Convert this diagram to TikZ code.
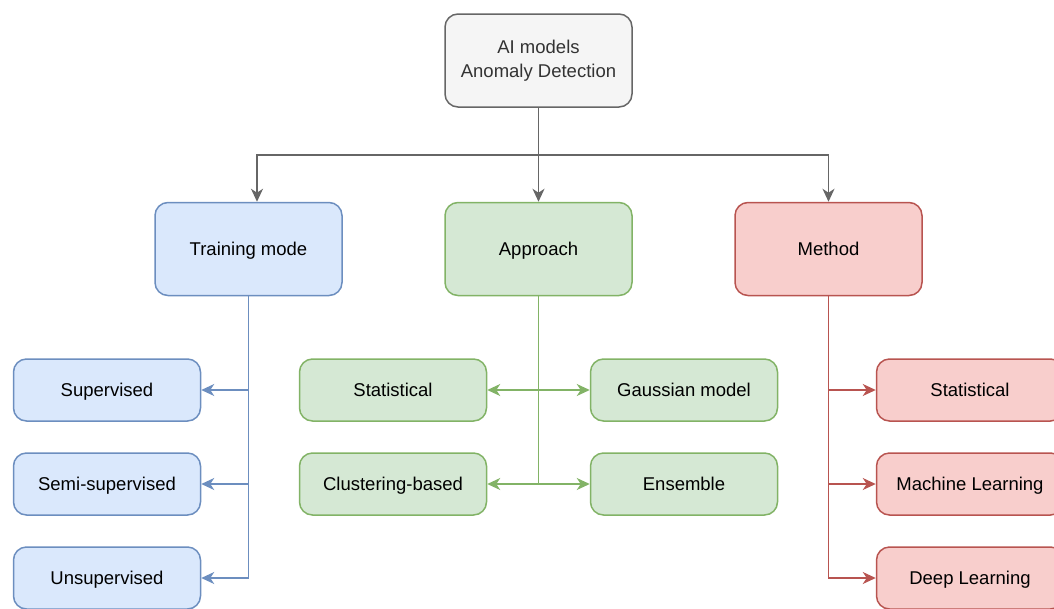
\documentclass[tikz,border=0pt]{standalone}
\usepackage{fontspec}
\setmainfont{Liberation Sans}
\usepackage{xcolor}
\usetikzlibrary{arrows.meta,shapes}

\definecolor{grayfill}{HTML}{F5F5F5}
\definecolor{graydraw}{HTML}{666666}
\definecolor{bluefill}{HTML}{DAE8FC}
\definecolor{bluedraw}{HTML}{6C8EBF}
\definecolor{greenfill}{HTML}{D5E8D4}
\definecolor{greendraw}{HTML}{82B366}
\definecolor{redfill}{HTML}{F8CECC}
\definecolor{reddraw}{HTML}{B85450}

\begin{document}
\begin{tikzpicture}[x=1pt, y=-1pt, font=\fontsize{18.5}{24}\selectfont,
  box/.style={draw, rounded corners=13pt, line width=1.5pt, align=center, minimum width=187pt, inner sep=2pt},
  one line/.style={text height=15pt, text depth=3pt},
  big node/.style={box, minimum height=93pt},
  small node/.style={box, one line, minimum height=62pt},
  edge/.style={line width=1.6pt, -{Stealth[length=13pt, width=12pt, inset=4pt]}}]
\useasboundingbox (0,0) rectangle (1054,608);
\clip (0,0) rectangle (1054,608);

% top level
\node[big node, fill=grayfill, draw=graydraw, text=black!80] (top) at (538.5,60.5) {AI models\\Anomaly Detection};

% second level
\node[big node, one line, fill=bluefill, draw=bluedraw] (train) at (248.5,249) {Training mode};
\node[big node, one line, fill=greenfill, draw=greendraw] (appr) at (538.5,249) {Approach};
\node[big node, one line, fill=redfill, draw=reddraw] (meth) at (828.5,249) {Method};

% training mode
\node[small node, fill=bluefill, draw=bluedraw] (sup) at (107,390) {Supervised};
\node[small node, fill=bluefill, draw=bluedraw] (semi) at (107,484) {Semi-supervised};
\node[small node, fill=bluefill, draw=bluedraw] (unsup) at (107,578) {Unsupervised};

% approach
\node[small node, fill=greenfill, draw=greendraw] (stat) at (393,390) {Statistical};
\node[small node, fill=greenfill, draw=greendraw] (gauss) at (684,390) {Gaussian model};
\node[small node, fill=greenfill, draw=greendraw] (clus) at (393,484) {Clustering-based};
\node[small node, fill=greenfill, draw=greendraw] (ens) at (684,484) {Ensemble};

% method
\node[small node, fill=redfill, draw=reddraw] (mstat) at (970,390) {Statistical};
\node[small node, fill=redfill, draw=reddraw] (ml) at (970,484) {Machine Learning};
\node[small node, fill=redfill, draw=reddraw] (dl) at (970,578) {Deep Learning};

\coordinate (split) at (538.5,155);
\draw[edge, graydraw] (top.south) -- (split) -| ([xshift=8.5pt]train.north);
\draw[edge, graydraw] (top.south) -- (appr.north);
\draw[edge, graydraw] (split) -| (meth.north);

\draw[edge, bluedraw] (train.south) |- (sup.east);
\draw[edge, bluedraw] (train.south) |- (semi.east);
\draw[edge, bluedraw] (train.south) |- (unsup.east);

\draw[edge, greendraw] (appr.south) |- (stat.east);
\draw[edge, greendraw] (appr.south) |- (gauss.west);
\draw[edge, greendraw] (appr.south) |- (clus.east);
\draw[edge, greendraw] (appr.south) |- (ens.west);

\draw[edge, reddraw] (meth.south) |- (mstat.west);
\draw[edge, reddraw] (meth.south) |- (ml.west);
\draw[edge, reddraw] (meth.south) |- (dl.west);
\end{tikzpicture}
\end{document}
